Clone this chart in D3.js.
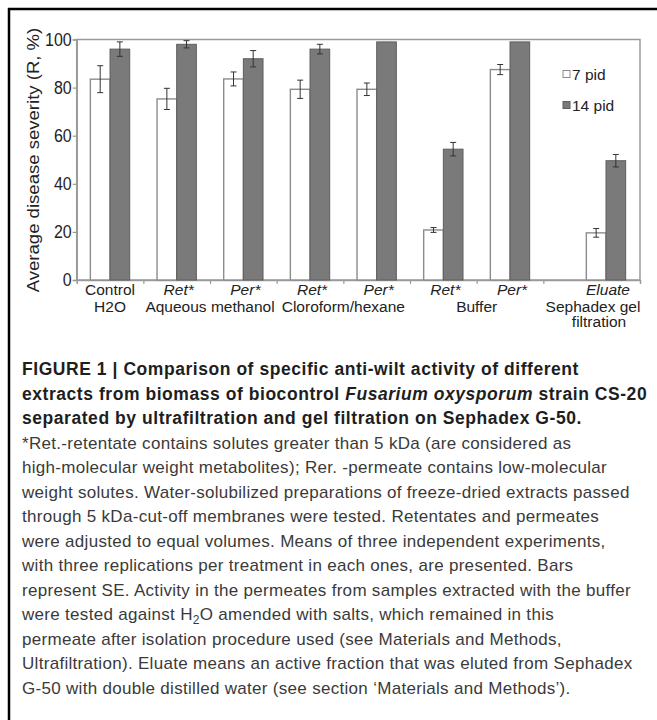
<!DOCTYPE html>
<html>
<head>
<meta charset="utf-8">
<script src="https://cdn.jsdelivr.net/npm/d3@7"></script>
<style>
  body { margin: 0; background: #fff; }
  svg { display: block; }
</style>
</head>
<body>
<div id="chart"></div>
<script>
// ---------------------------//
//       DATA                 //
// ---------------------------//
let categories = ["Control", "Ret*", "Per*", "Ret*", "Per*", "Ret*", "Per*", "Eluate"];
let italicCats = [false, true, true, true, true, true, true, true];
let seriesNames = ["7 pid", "14 pid"];
let pid7 = [83.5, 75.3, 83.6, 79.3, 79.3, 20.8, 87.5, 19.6];
let pid7Err = [5.6, 4.4, 2.9, 3.8, 2.6, 1.0, 2.1, 1.8];
let pid14 = [96.0, 98.0, 92.0, 96.0, 99.0, 54.4, 99.0, 49.6];
let pid14Err = [3.0, 1.5, 3.4, 2.0, 0, 2.8, 0, 2.6];
let yTicks = [0, 20, 40, 60, 80, 100];
// extraction groups: name lines and which categories they span
let groupNames = [["H2O"], ["Aqueous methanol"], ["Cloroform/hexane"], ["Buffer"], ["Sephadex gel", "filtration"]];
let groupSpan = [[0, 0], [1, 2], [3, 4], [5, 6], [7, 7]];

// set the dimensions of the plot
let W = 657, H = 720;
let plot = { left: 76.7, right: 640, top: 39.5, bottom: 280 };

let svg = d3.select("#chart")
    .append("svg")
    .attr("width", W)
    .attr("height", H);

// figure frame (top + left rule)
svg.append("line").attr("x1", 8).attr("x2", W).attr("y1", 9).attr("y2", 9)
    .attr("stroke", "#000").attr("stroke-width", 2.5);
svg.append("line").attr("x1", 9).attr("x2", 9).attr("y1", 8).attr("y2", H)
    .attr("stroke", "#000").attr("stroke-width", 2.5);

// ---------------------------//
//       SCALES               //
// ---------------------------//
// last slot (Eluate) is wider than the others
let slotCenter = i => i < 7 ? i + 0.5 : 7.94;
let x = d3.scaleLinear().domain([0, 8.45]).range([plot.left, plot.right]);
let y = d3.scaleLinear().domain([0, 100]).range([plot.bottom, plot.top]);
let barW = (x(1) - x(0)) * 0.295;

let font = "'Liberation Sans', Arial, Helvetica, sans-serif";

// plot frame
svg.append("rect")
    .attr("x", plot.left).attr("y", plot.top)
    .attr("width", plot.right - plot.left).attr("height", plot.bottom - plot.top)
    .attr("fill", "none").attr("stroke", "#9a9a9a").attr("stroke-width", 1.5);

// Y axis
let yAxis = svg.append("g")
    .attr("transform", "translate(" + plot.left + ",0)")
    .call(d3.axisLeft(y).tickValues(yTicks).tickSize(4).tickPadding(1));
yAxis.select(".domain").attr("stroke", "#9a9a9a").attr("stroke-width", 1.5);
yAxis.selectAll(".tick line").attr("stroke", "#9a9a9a").attr("stroke-width", 1.2);
yAxis.selectAll(".tick text")
    .attr("fill", "#222")
    .style("font-family", font)
    .style("font-size", "16px")
    .attr("transform", "scale(1,1.14)");

// X axis (ticks only between slots)
let xAxis = svg.append("g")
    .attr("transform", "translate(0," + plot.bottom + ")")
    .call(d3.axisBottom(x).tickValues([1, 2, 3, 4, 5, 6, 7]).tickSize(4).tickFormat(""));
xAxis.select(".domain").attr("stroke", "#9a9a9a").attr("stroke-width", 1.5);
xAxis.selectAll(".tick line").attr("stroke", "#9a9a9a").attr("stroke-width", 1.2);

// Y title
svg.append("text")
    .attr("transform", "translate(39,160) rotate(-90) scale(1.16,1)")
    .attr("text-anchor", "middle")
    .style("font-family", font)
    .style("font-size", "16px")
    .attr("fill", "#222")
    .text("Average disease severity (R, %)");

// ---------------------------//
//       BARS                 //
// ---------------------------//
let rows = categories.map((c, i) => ({ i: i, v7: pid7[i], e7: pid7Err[i], v14: pid14[i], e14: pid14Err[i] }));

let bars = svg.append("g");
bars.selectAll(".b7")
    .data(rows)
    .enter()
    .append("rect")
    .attr("x", d => x(slotCenter(d.i)) - barW)
    .attr("y", d => y(d.v7))
    .attr("width", barW)
    .attr("height", d => y(0) - y(d.v7))
    .attr("fill", "#fff")
    .attr("stroke", "#8c8c8c")
    .attr("stroke-width", 1.4);

bars.selectAll(".b14")
    .data(rows)
    .enter()
    .append("rect")
    .attr("x", d => x(slotCenter(d.i)))
    .attr("y", d => y(d.v14))
    .attr("width", barW)
    .attr("height", d => y(0) - y(d.v14))
    .attr("fill", "#7a7a7a")
    .attr("stroke", "#5e5e5e")
    .attr("stroke-width", 1);

// error bars
let errs = [];
rows.forEach(d => {
    errs.push({ cx: x(slotCenter(d.i)) - barW / 2, v: d.v7, e: d.e7 });
    errs.push({ cx: x(slotCenter(d.i)) + barW / 2, v: d.v14, e: d.e14 });
});
errs = errs.filter(d => d.e > 0);
let eg = svg.append("g").attr("stroke", "#333").attr("stroke-width", 1);
eg.selectAll(".ev").data(errs).enter().append("line")
    .attr("x1", d => d.cx).attr("x2", d => d.cx)
    .attr("y1", d => y(d.v + d.e)).attr("y2", d => y(d.v - d.e));
eg.selectAll(".et").data(errs).enter().append("line")
    .attr("x1", d => d.cx - 3).attr("x2", d => d.cx + 3)
    .attr("y1", d => y(d.v + d.e)).attr("y2", d => y(d.v + d.e));
eg.selectAll(".eb").data(errs).enter().append("line")
    .attr("x1", d => d.cx - 3).attr("x2", d => d.cx + 3)
    .attr("y1", d => y(d.v - d.e)).attr("y2", d => y(d.v - d.e));

// ---------------------------//
//       X LABELS             //
// ---------------------------//
let lab = svg.append("g")
    .style("font-family", font)
    .style("font-size", "15.5px")
    .attr("fill", "#222")
    .attr("text-anchor", "middle");

lab.selectAll(".cat")
    .data(categories)
    .enter()
    .append("text")
    .attr("x", (d, i) => x(slotCenter(i)) + (i === 0 ? 0 : 2))
    .attr("y", 294.5)
    .style("font-style", (d, i) => italicCats[i] ? "italic" : "normal")
    .text(d => d);

groupNames.forEach((g, gi) => {
    let s = groupSpan[gi];
    let cx = (x(slotCenter(s[0])) + x(slotCenter(s[1]))) / 2;
    g.forEach((line, li) => {
        let off = 0;
        if (gi === 4) off = li === 0 ? -13 : -7;
        lab.append("text")
            .attr("x", cx + off)
            .attr("y", 311.5 + li * 15.5)
            .text(line);
    });
});

// ---------------------------//
//       LEGEND               //
// ---------------------------//
let legFill = ["#fff", "#7a7a7a"];
let legStroke = ["#8c8c8c", "#5e5e5e"];
let leg = svg.append("g");
leg.selectAll("rect")
    .data(seriesNames)
    .enter()
    .append("rect")
    .attr("x", 563)
    .attr("y", (d, i) => 70.5 + i * 31)
    .attr("width", 7).attr("height", 7)
    .attr("fill", (d, i) => legFill[i])
    .attr("stroke", (d, i) => legStroke[i])
    .attr("stroke-width", 1);
leg.selectAll("text")
    .data(seriesNames)
    .enter()
    .append("text")
    .attr("x", 572)
    .attr("y", (d, i) => 79.5 + i * 31)
    .style("font-family", font)
    .style("font-size", "15.5px")
    .attr("fill", "#222")
    .text(d => d);

// ---------------------------//
//       CAPTION              //
// ---------------------------//
let capX = 22, capY0 = 375, capLH = 24.5;
let cap = svg.append("g").style("font-family", font);

let boldLines = [
    [["FIGURE 1 | Comparison of specific anti-wilt activity of different", ""]],
    [["extracts from biomass of biocontrol ", ""], ["Fusarium oxysporum", "i"], [" strain CS-20", ""]],
    [["separated by ultrafiltration and gel filtration on Sephadex G-50.", ""]]
];
let bodyLines = [
    [["*Ret.-retentate contains solutes greater than 5 kDa (are considered as", ""]],
    [["high-molecular weight metabolites); Rer. -permeate contains low-molecular", ""]],
    [["weight solutes. Water-solubilized preparations of freeze-dried extracts passed", ""]],
    [["through 5 kDa-cut-off membranes were tested. Retentates and permeates", ""]],
    [["were adjusted to equal volumes. Means of three independent experiments,", ""]],
    [["with three replications per treatment in each ones, are presented. Bars", ""]],
    [["represent SE. Activity in the permeates from samples extracted with the buffer", ""]],
    [["were tested against H", ""], ["2", "sub"], ["O amended with salts, which remained in this", ""]],
    [["permeate after isolation procedure used (see Materials and Methods,", ""]],
    [["Ultrafiltration). Eluate means an active fraction that was eluted from Sephadex", ""]],
    [["G-50 with double distilled water (see section \u2018Materials and Methods\u2019).", ""]]
];

function writeLine(parts, row, bold) {
    let t = cap.append("text")
        .attr("x", capX)
        .attr("y", capY0 + row * capLH)
        .attr("fill", bold ? "#1e1e1e" : "#3a3a3a")
        .style("font-size", bold ? "17.5px" : "17px")
        .style("letter-spacing", bold ? "0.55px" : "0.3px")
        .style("font-weight", bold ? "bold" : "normal");
    parts.forEach((p, k) => {
        let s = t.append("tspan").text(p[0]);
        if (p[1] === "i") s.style("font-style", "italic");
        if (p[1] === "sub") s.attr("dy", 4).style("font-size", "12px");
        if (k > 0 && parts[k - 1][1] === "sub") s.attr("dy", -4);
    });
    return t;
}
boldLines.forEach((l, i) => writeLine(l, i, true));
bodyLines.forEach((l, i) => writeLine(l, i + 3, false));
</script>
</body>
</html>
